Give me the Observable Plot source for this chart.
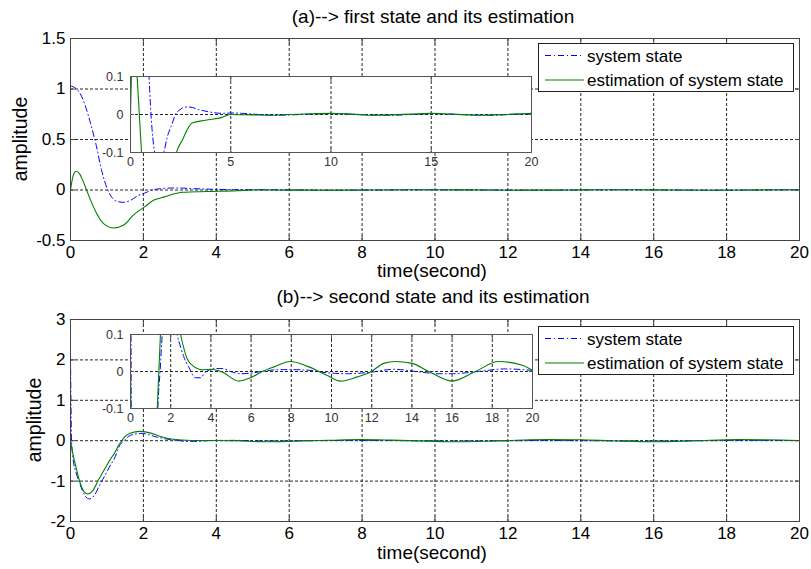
<!DOCTYPE html>
<html><head><meta charset="utf-8">
<script src="https://cdn.jsdelivr.net/npm/d3@7"></script>
<script src="https://cdn.jsdelivr.net/npm/@observablehq/plot@0.6"></script>
<style>
body{margin:0;background:#fff;}
#wrap{position:relative;width:811px;height:569px;overflow:hidden;background:#fff;font-family:Arial,"Liberation Sans",sans-serif;color:#000;}
.txt{position:absolute;white-space:nowrap;line-height:1;}
.title{font-size:19px;transform:translateX(-50%);}
.xlab{font-size:19px;line-height:10px;height:10px;transform:translateX(-50%);}
.ylab{font-size:19.5px;transform:translate(-50%,-50%) rotate(-90deg);}
.legend{position:absolute;box-sizing:border-box;border:1px solid #222;background:#fff;}
</style></head><body><div id="wrap"></div>
<script>
// ---------- data ----------
const xTicksMain = [0, 2, 4, 6, 8, 10, 12, 14, 16, 18, 20];
const yTicksA = [-0.5, 0, 0.5, 1, 1.5];
const yTicksB = [-2, -1, 0, 1, 2, 3];
const xTicksInsetA = [0, 5, 10, 15, 20];
const xTicksInsetB = [0, 2, 4, 6, 8, 10, 12, 14, 16, 18, 20];
const yTicksInset = [-0.1, 0, 0.1];
const seriesNames = ["system state", "estimation of system state"];
const titles = ["(a)--> first state and its estimation", "(b)--> second state and its estimation"];

// (a) first state
const aSysT = [0, 0.2, 0.4, 0.55, 0.7, 0.85, 1.0, 1.15, 1.3, 1.45, 1.66, 1.83, 2.08, 2.24, 2.45, 2.66, 2.91, 3.41, 3.9, 4.57, 5.07, 5.57, 6.4, 7.2, 8, 9, 10, 11, 12, 13, 14, 15, 16, 17, 18, 19, 20];
const aSysV = [1.03, 0.99, 0.84, 0.66, 0.45, 0.2, 0.02, -0.08, -0.115, -0.122, -0.1, -0.06, -0.024, 0, 0.012, 0.0187, 0.02, 0.013, 0.007, 0.003, 0.004, 0.003, 0, -0.002, -0.001, 0.001, 0.002, 0.001, -0.001, -0.002, 0, 0.002, 0.001, -0.001, -0.002, 0, 0.002];
const aEstT = [0, 0.08, 0.16, 0.25, 0.33, 0.44, 0.55, 0.7, 0.9, 1.19, 1.45, 1.74, 2.02, 2.29, 2.58, 3.07, 3.74, 4.57, 4.99, 6, 7, 8, 9, 10, 11, 12, 13, 14, 15, 16, 17.5, 19, 20];
const aEstV = [0, 0.15, 0.185, 0.16, 0.1, 0, -0.1, -0.22, -0.33, -0.376, -0.35, -0.244, -0.17, -0.1, -0.068, -0.0224, -0.015, -0.0075, 0, -0.001, -0.002, 0, 0.002, 0.003, 0.001, -0.002, -0.001, 0.001, 0.003, 0.001, -0.002, 0.001, 0.003];

// (b) second state
const bSysT = [0, 0.03, 0.07, 0.15, 0.27, 0.41, 0.52, 0.65, 0.8, 0.95, 1.1, 1.2, 1.36, 1.47, 1.58, 1.75, 1.97, 2.15, 2.32, 2.5, 2.65, 2.9, 3.23, 3.48, 3.73, 4.23, 4.56, 5.06, 5.47, 6.05, 6.5, 7.46, 8.6, 9.79, 10.78, 11.94, 13.1, 14.2, 15.3, 16, 17.3, 18.66, 20];
const bSysV = [2.1, 0.0, -0.45, -0.78, -1.1, -1.38, -1.44, -1.36, -1.1, -0.85, -0.6, -0.45, -0.1, 0, 0.1, 0.16, 0.18, 0.15, 0.1, 0.065, 0.04, 0.012, -0.017, -0.017, -0.0015, 0.008, 0.008, -0.0015, -0.006, -0.004, 0, 0.005, 0.0045, -0.0035, -0.006, -0.002, 0.006, 0, -0.006, -0.006, 0, 0.007, 0.003];
const bEstT = [0, 0.05, 0.14, 0.27, 0.38, 0.47, 0.6, 0.78, 0.95, 1.1, 1.2, 1.33, 1.41, 1.49, 1.65, 1.9, 2.15, 2.49, 2.82, 3.07, 3.57, 3.98, 4.56, 5.39, 5.97, 6.55, 7.13, 7.96, 8.79, 9.79, 10.45, 11.28, 11.94, 12.6, 13.15, 14.0, 14.84, 16.0, 17.16, 18.3, 19.5, 20];
const bEstV = [0, -0.25, -0.62, -1.06, -1.27, -1.32, -1.25, -0.95, -0.68, -0.45, -0.32, -0.1, 0, 0.1, 0.19, 0.23, 0.2, 0.1, 0.0345, 0.017, 0.0045, 0.006, -0.0015, -0.026, -0.017, 0, 0.0125, 0.027, 0.0145, -0.011, -0.026, -0.0145, -0.0015, 0.022, 0.027, 0.022, 0, -0.026, 0, 0.027, 0.017, 0.003];

// ---------- styling ----------
const BLUE = "#0000ff", GREEN = "#008000";
const FONT = "Arial, 'Liberation Sans', sans-serif";
const wrap = document.getElementById("wrap");
const toRows = (T, V) => T.map((t, i) => ({t, v: V[i]}));
const fmt = d => String(d);

function place(el, left, top) {
  el.style.position = "absolute";
  el.style.left = left + "px";
  el.style.top = top + "px";
  wrap.appendChild(el);
}

function chart({sys, est, xTicks, yTicks, yDomain, width, height, ml, mr, mt, mb, fontSize, textColor, frameColor, tick, padX, padY}) {
  const grid = {stroke: "#000", strokeOpacity: 0.85, strokeDasharray: "3,2", strokeWidth: 1};
  return Plot.plot({
    width, height, marginLeft: ml, marginRight: mr, marginTop: mt, marginBottom: mb,
    style: {background: "transparent", fontFamily: FONT, fontSize: fontSize + "px", color: textColor, overflow: "visible"},
    x: {domain: [0, 20]},
    y: {domain: yDomain},
    marks: [
      Plot.frame({fill: "white", stroke: "none"}),
      Plot.gridX(xTicks, grid),
      Plot.gridY(yTicks, grid),
      Plot.line(sys, {x: "t", y: "v", stroke: BLUE, strokeWidth: 1, strokeDasharray: "6,3,1,3", curve: "monotone-x", clip: true}),
      Plot.line(est, {x: "t", y: "v", stroke: GREEN, strokeWidth: 1.1, curve: "monotone-x", clip: true}),
      Plot.frame({stroke: frameColor, strokeWidth: 1}),
      Plot.axisX(xTicks, {anchor: "bottom", tickSize: -tick, tickPadding: padX, tickFormat: fmt, label: null, stroke: frameColor}),
      Plot.axisX(xTicks, {anchor: "top", tickSize: -tick, tickFormat: () => "", label: null, stroke: frameColor}),
      Plot.axisY(yTicks, {anchor: "left", tickSize: -tick, tickPadding: padY, tickFormat: fmt, label: null, stroke: frameColor}),
      Plot.axisY(yTicks, {anchor: "right", tickSize: -tick, tickFormat: () => "", label: null, stroke: frameColor})
    ]
  });
}

function text(cls, str, left, top) {
  const d = document.createElement("div");
  d.className = "txt " + cls;
  d.textContent = str;
  d.style.left = left + "px";
  d.style.top = top + "px";
  wrap.appendChild(d);
}

function legend(left, top) {
  const d = document.createElement("div");
  d.className = "legend";
  d.style.left = left + "px";
  d.style.top = top + "px";
  d.style.width = "256px";
  d.style.height = "49px";
  const ns = "http://www.w3.org/2000/svg";
  const svg = document.createElementNS(ns, "svg");
  svg.setAttribute("width", 254);
  svg.setAttribute("height", 47);
  svg.style.display = "block";
  const rows = [{c: BLUE, dash: "6,3,1,3", y: 11.5}, {c: GREEN, dash: null, y: 36}];
  rows.forEach((r, i) => {
    const l = document.createElementNS(ns, "line");
    l.setAttribute("x1", 6); l.setAttribute("x2", 45);
    l.setAttribute("y1", r.y); l.setAttribute("y2", r.y);
    l.setAttribute("stroke", r.c);
    l.setAttribute("stroke-width", 1.2);
    if (r.dash) l.setAttribute("stroke-dasharray", r.dash);
    svg.appendChild(l);
    const t = document.createElementNS(ns, "text");
    t.setAttribute("x", 48); t.setAttribute("y", r.y + 6);
    t.setAttribute("font-size", 17);
    t.setAttribute("font-family", FONT);
    t.textContent = seriesNames[i];
    svg.appendChild(t);
  });
  d.appendChild(svg);
  wrap.appendChild(d);
}

const aSys = toRows(aSysT, aSysV), aEst = toRows(aEstT, aEstV);
const bSys = toRows(bSysT, bSysV), bEst = toRows(bEstT, bEstV);

// main (a)
place(chart({sys: aSys, est: aEst, xTicks: xTicksMain, yTicks: yTicksA, yDomain: [-0.5, 1.5],
  width: 811, height: 285, ml: 70, mr: 12, mt: 38, mb: 45, fontSize: 17, textColor: "#000", frameColor: "#444", tick: 5, padX: 10, padY: 10}), 0, 0);
// main (b)
place(chart({sys: bSys, est: bEst, xTicks: xTicksMain, yTicks: yTicksB, yDomain: [-2, 3],
  width: 811, height: 284, ml: 70, mr: 12, mt: 34, mb: 48, fontSize: 17, textColor: "#000", frameColor: "#444", tick: 5, padX: 10, padY: 10}), 0, 285);
// inset (a)
place(chart({sys: aSys, est: aEst, xTicks: xTicksInsetA, yTicks: yTicksInset, yDomain: [-0.1, 0.1],
  width: 451, height: 103, ml: 40, mr: 10, mt: 5, mb: 22, fontSize: 12.5, textColor: "#333", frameColor: "#555", tick: 4, padX: 9, padY: 11}), 90, 71);
// inset (b)
place(chart({sys: bSys, est: bEst, xTicks: xTicksInsetB, yTicks: yTicksInset, yDomain: [-0.1, 0.1],
  width: 452, height: 101, ml: 40, mr: 10, mt: 5, mb: 22, fontSize: 12.5, textColor: "#333", frameColor: "#555", tick: 4, padX: 9, padY: 11}), 90, 329);

legend(538, 43);
legend(538, 326);

text("title", titles[0], 433, 7);
text("title", titles[1], 433, 287);
text("xlab", "time(second)", 432, 266);
text("xlab", "time(second)", 432, 548);
text("ylab", "amplitude", 21, 139);
text("ylab", "amplitude", 35, 420);
</script>
</body></html>
